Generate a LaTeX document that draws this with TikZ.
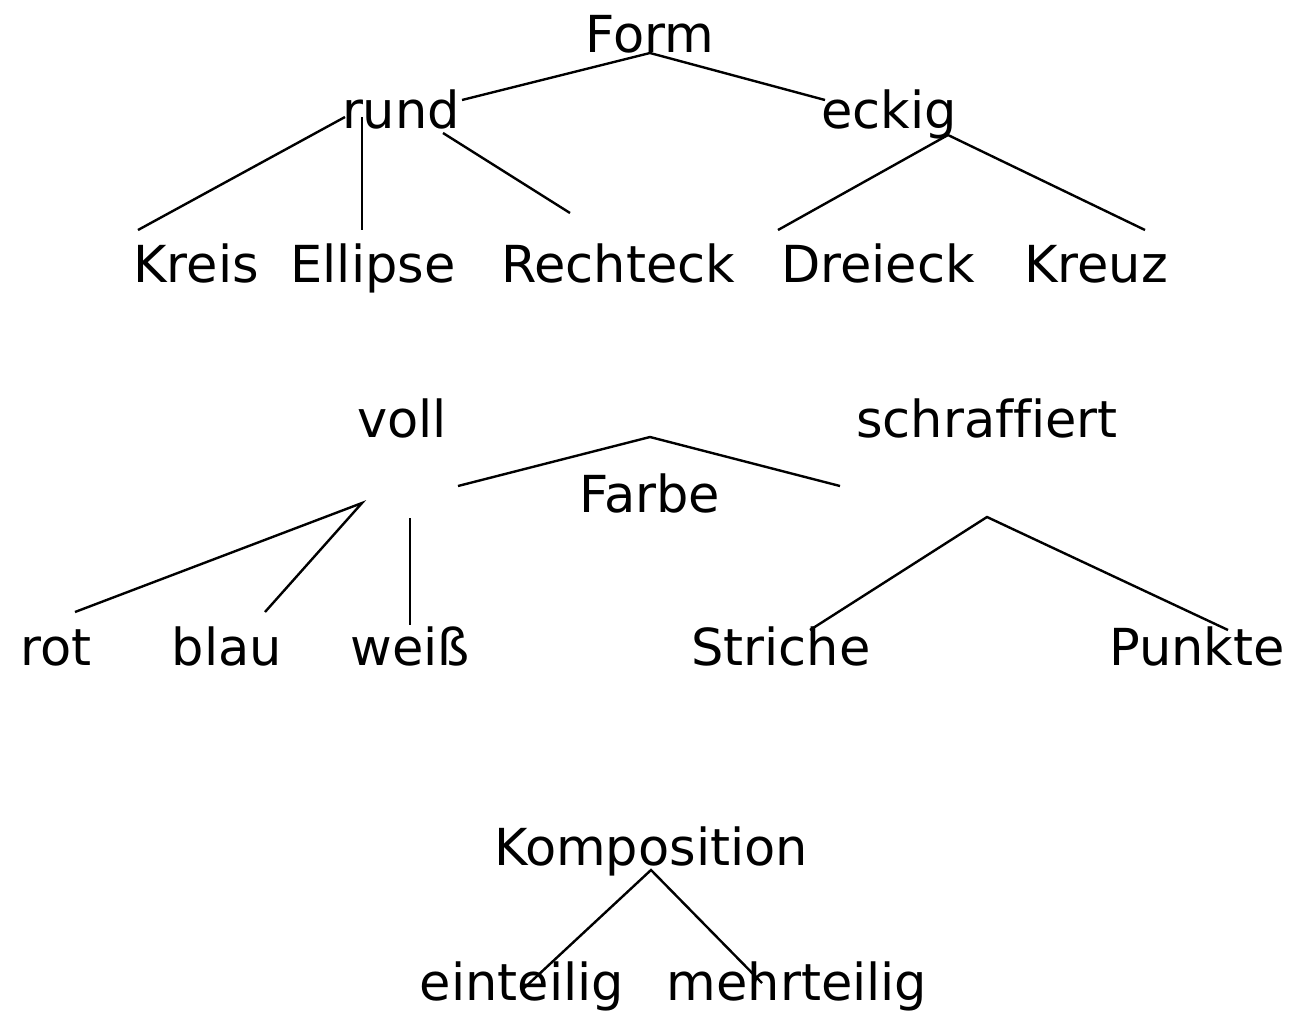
\documentclass[tikz,border=0pt]{standalone}
\usepackage{fontspec}
\setmainfont[Ligatures=NoCommon]{DejaVu Sans}
\begin{document}
\begin{tikzpicture}[x=1pt,y=-1pt,
  word/.style={anchor=base,inner sep=0pt,font=\fontsize{51}{58}\selectfont},
  branch/.style={line width=2.4pt}]
\useasboundingbox (0,0) rectangle (1290,1015);

% --- Form ---
\node[word] (form)   at (650,52)  {Form};
\node[word] (rund)   at (401,128) {rund};
\node[word] (eckig)  at (889,128) {eckig};
\node[word] (kreis)  at (196,282) {Kreis};
\node[word] (ellipse) at (373,282) {Ellipse};
\node[word] (rechteck) at (618,282) {Rechteck};
\node[word] (dreieck) at (878,282) {Dreieck};
\node[word] (kreuz)  at (1096,282) {Kreuz};

\coordinate (f0) at (650,53);
\coordinate (f1) at (462,100);
\coordinate (f2) at (825,100);
\coordinate (r0) at (345,117);
\coordinate (r1) at (138,230);
\coordinate (r2t) at (362,117);
\coordinate (r2) at (362,230);
\coordinate (r3t) at (443,133);
\coordinate (r3) at (570,213);
\coordinate (e0) at (948,135);
\coordinate (e1) at (778,230);
\coordinate (e2) at (1145,230);

\draw[branch] (f1) -- (f0) -- (f2);
\draw[branch] (r0) -- (r1);
\draw[branch] (r2t) -- (r2);
\draw[branch] (r3t) -- (r3);
\draw[branch] (e1) -- (e0) -- (e2);

% --- Farbe ---
\node[word] (voll)   at (402,437) {voll};
\node[word] (schraffiert) at (987,437) {schraffiert};
\node[word] (farbe)  at (650,512) {Farbe};
\node[word] (rot)    at (56,665)  {rot};
\node[word] (blau)   at (227,665) {blau};
\node[word] (weiss)  at (410,665) {weiß};
\node[word] (striche) at (781,665) {Striche};
\node[word] (punkte) at (1197,665) {Punkte};

\coordinate (c0) at (650,437);
\coordinate (c1) at (458,486);
\coordinate (c2) at (840,486);
\coordinate (v0) at (362,503);
\coordinate (v1) at (75,612);
\coordinate (v2) at (265,612);
\coordinate (v3t) at (410,518);
\coordinate (v3) at (410,625);
\coordinate (s0) at (987,517);
\coordinate (s1) at (810,630);
\coordinate (s2) at (1228,630);

\draw[branch] (c1) -- (c0) -- (c2);
\draw[branch] (v1) -- (v0) -- (v2);
\draw[branch] (v3t) -- (v3);
\draw[branch] (s1) -- (s0) -- (s2);

% --- Komposition ---
\node[word] (komp)   at (651,865)  {Komposition};
\node[word] (ein)    at (522,1000) {einteilig};
\node[word] (mehr)   at (797,1000) {mehrteilig};

\coordinate (k0) at (651,870);
\coordinate (k1) at (522,990);
\coordinate (k2) at (762,983);
\draw[branch] (k1) -- (k0) -- (k2);
\end{tikzpicture}
\end{document}
